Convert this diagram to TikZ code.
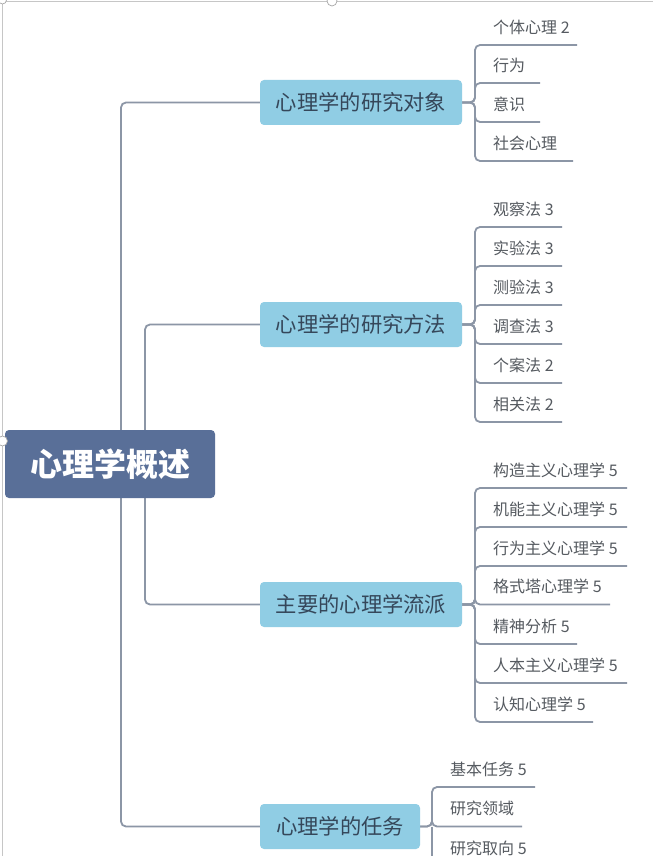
\documentclass[tikz,border=0pt]{standalone}
\usepackage{fontspec}
\newfontfamily\cjk{Noto Sans CJK SC}
\usetikzlibrary{backgrounds}
\definecolor{rootblue}{HTML}{596F98}
\definecolor{boxblue}{HTML}{90CDE4}
\definecolor{linegray}{HTML}{8C96A6}
\definecolor{boxtext}{HTML}{35475A}
\definecolor{childtext}{HTML}{555A60}
\tikzset{
  rootbox/.style={fill=rootblue, rounded corners=4pt, minimum width=210pt, minimum height=68pt, inner sep=0pt, text=white, font=\cjk\bfseries\fontsize{32}{32}\selectfont},
  branchbox/.style={fill=boxblue, rounded corners=4pt, minimum height=45pt, inner sep=0pt, text=boxtext, font=\cjk\fontsize{21.3}{21.3}\selectfont},
  childtxt/.style={anchor=west, inner sep=0pt, text=childtext, font=\cjk\fontsize{16}{16}\selectfont},
  conn/.style={draw=linegray, line width=1.8pt, rounded corners=5pt},
  frame/.style={draw=gray!45, line width=0.8pt},
  handle/.style={draw=gray!70, fill=white, line width=0.7pt}
}
\begin{document}
\begin{tikzpicture}[x=1pt,y=-1pt]
\useasboundingbox (0,0) rectangle (653,856);
% nodes
\node[rootbox] (root) at (110,464) {心理学概述};
\node[branchbox, minimum width=202pt] (b1) at (361,102.5) {心理学的研究对象};
\node[branchbox, minimum width=202pt] (b2) at (361,324.5) {心理学的研究方法};
\node[branchbox, minimum width=202pt] (b3) at (361,604.5) {主要的心理学流派};
\node[branchbox, minimum width=160pt] (b4) at (340,826.5) {心理学的任务};
\begin{scope}[on background layer]
  \fill[white] (0,0) rectangle (653,856);
  \draw[frame] (0,1) -- (653,1);
  \draw[frame] (2.5,0) -- (2.5,856);
\end{scope}
% junction coordinates
\coordinate (r1) at (121,464);
\coordinate (r2) at (145,464);
\coordinate (k1) at (475,102.5);
\coordinate (k2) at (475,324.5);
\coordinate (k3) at (475,604.5);
\coordinate (k4) at (432,826.5);
% children
\foreach \t/\uy/\ex [count=\i] in {个体心理 2/45/577, 行为/83/540, 意识/122/540, 社会心理/161/573}{
  \node[childtxt] (c1\i) at (493,\uy-18) {\t};
  \coordinate (e1\i) at (\ex,\uy);
  \begin{scope}[on background layer]
    \draw[conn] (b1.east) -- (k1) |- (e1\i);
  \end{scope}
}
\foreach \t/\uy/\ex [count=\i] in {观察法 3/227/562, 实验法 3/266/562, 测验法 3/305/562, 调查法 3/344/562, 个案法 2/383/562, 相关法 2/422/562}{
  \node[childtxt] (c2\i) at (493,\uy-18) {\t};
  \coordinate (e2\i) at (\ex,\uy);
  \begin{scope}[on background layer]
    \draw[conn] (b2.east) -- (k2) |- (e2\i);
  \end{scope}
}
\foreach \t/\uy/\ex [count=\i] in {构造主义心理学 5/488/627, 机能主义心理学 5/527/627, 行为主义心理学 5/566/627, 格式塔心理学 5/604.5/610, 精神分析 5/644/577, 人本主义心理学 5/683/627, 认知心理学 5/722/593}{
  \node[childtxt] (c3\i) at (493,\uy-18) {\t};
  \coordinate (e3\i) at (\ex,\uy);
  \begin{scope}[on background layer]
    \draw[conn] (b3.east) -- (k3) |- (e3\i);
  \end{scope}
}
\foreach \t/\uy/\ex [count=\i] in {基本任务 5/787/535, 研究领域/826.5/522}{
  \node[childtxt] (c4\i) at (450,\uy-18) {\t};
  \coordinate (e4\i) at (\ex,\uy);
  \begin{scope}[on background layer]
    \draw[conn] (b4.east) -- (k4) |- (e4\i);
  \end{scope}
}
\node[childtxt] (c43) at (450,848) {研究取向 5};
\coordinate (e43) at (432,860);
\begin{scope}[on background layer]
  \draw[conn] (b1.west) -| (r1) |- (b4.west);
  \draw[conn] (b2.west) -| (r2) |- (b3.west);
  \draw[conn] (k4) -- (e43);
\end{scope}
% selection handles
\draw[handle] (2.5,441) circle (5pt);
\draw[handle] (332,1) circle (5pt);
\draw[handle] (2.5,0) circle (4pt);
\end{tikzpicture}
\end{document}
